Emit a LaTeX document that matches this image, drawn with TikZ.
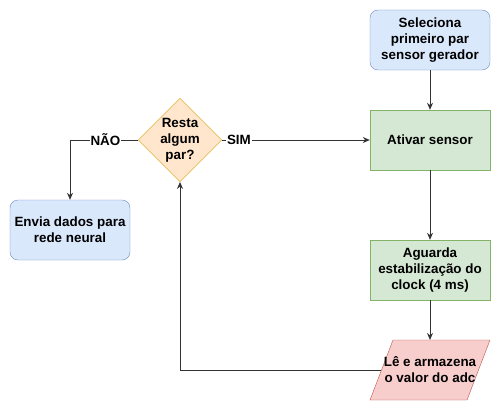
\documentclass[tikz,border=0pt]{standalone}
\usepackage{fontspec}
\setmainfont{Liberation Sans}
\usetikzlibrary{shapes.geometric,arrows.meta}
\definecolor{bluef}{HTML}{DAE8FC}\definecolor{blued}{HTML}{6C8EBF}
\definecolor{greenf}{HTML}{D5E8D4}\definecolor{greend}{HTML}{82B366}
\definecolor{orangef}{HTML}{FFE6CC}\definecolor{oranged}{HTML}{D79B00}
\definecolor{redf}{HTML}{F8CECC}\definecolor{redd}{HTML}{B85450}
\definecolor{linec}{HTML}{333333}
\tikzset{
  txt/.style={font=\bfseries\fontsize{13.4pt}{16pt}\selectfont, align=center, text=black},
  bluebox/.style={txt, draw=blued, fill=bluef, rounded corners=8pt, minimum width=120pt, minimum height=60pt, inner sep=0pt},
  greenbox/.style={txt, draw=greend, fill=greenf, minimum width=120pt, minimum height=60pt, inner sep=0pt},
  dec/.style={txt, draw=oranged, fill=orangef, diamond, minimum width=80pt, minimum height=80pt, inner sep=0pt, aspect=1},
  conn/.style={draw=linec, line width=1pt, -{Stealth[length=7pt,width=6pt]}},
  lbl/.style={txt, fill=white, inner sep=1pt},
}
\begin{document}
\begin{tikzpicture}[x=1pt,y=-1pt]
\useasboundingbox (0,0) rectangle (502,412);
\node[bluebox] (sel) at (430,40) {Seleciona\\primeiro par\\sensor gerador};
\node[greenbox] (at) at (430,140) {Ativar sensor};
\node[greenbox] (ag) at (430,270) {Aguarda\\estabilização do\\clock (4 ms)};
\draw[draw=redd, fill=redf] (370,400) -- (393,340) -- (490,340) -- (467,400) -- cycle;
\node[txt] (le) at (430,370) {Lê e armazena\\o valor do adc};
\coordinate (leN) at (430,340);
\coordinate (leW) at (381,370);
\node[dec] (d) at (180,140) {Resta\\algum\\par?};
\node[bluebox] (env) at (70,230) {Envia dados para\\rede neural};
\draw[conn] (sel.south) -- (at.north);
\draw[conn] (at.south) -- (ag.north);
\draw[conn] (ag.south) -- (leN);
\draw[conn] (leW) -| (d.south);
\draw[conn] (d.east) -- node[lbl, pos=0.115] {SIM} (at.west);
\draw[conn] (d.west) -| node[lbl, pos=0.24] {NÃO} (env.north);
\end{tikzpicture}
\end{document}
